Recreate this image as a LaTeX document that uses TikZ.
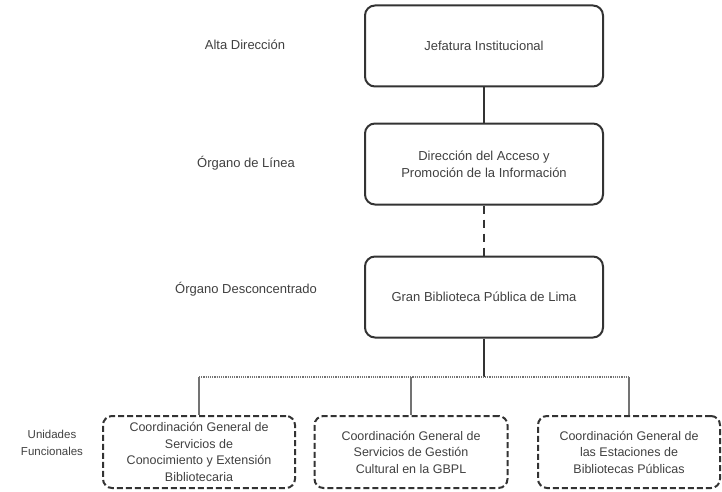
\documentclass[tikz,border=0pt]{standalone}
\usepackage{fontspec}
\setmainfont{Liberation Sans}
\begin{document}
\begin{tikzpicture}[x=1pt,y=1pt,
 caja/.style={draw=black!80,line width=2pt,rounded corners=10pt,
  minimum width=238pt,minimum height=81pt,align=center,text=black!75,
  font=\fontsize{13}{17}\selectfont},
 unidad/.style={draw=black!80,line width=2pt,rounded corners=9pt,
  dash pattern=on 6pt off 3pt,minimum height=72pt,align=center,
  text=black!75,font=\fontsize{12.5}{16.5}\selectfont},
 nivel/.style={text=black!75,align=center,font=\fontsize{13}{17}\selectfont},
 enlace/.style={draw=black!80,line width=1.8pt},
 rama/.style={draw=black!55,line width=1.4pt},
 bus/.style={draw=black!55,line width=1.2pt,densely dotted}]
 \useasboundingbox (0,0) rectangle (722,-492);
 \path
 (484,-46) node[caja] (jefatura) {Jefatura Institucional} % <<< nivel 1
 (245,-45) node[nivel] (altadir) {Alta Dirección}
 (484,-164) node[caja] (direccion) {Dirección del Acceso y\\Promoción de la Información} % <<< nivel 2
 (246,-163) node[nivel] (linea) {Órgano de Línea}
 (484,-297) node[caja] (gbpl) {Gran Biblioteca Pública de Lima} % <<< nivel 3
 (246,-289) node[nivel] (desconc) {Órgano Desconcentrado}
 (52,-443) node[nivel,font=\fontsize{11.5}{17}\selectfont] (funcional) {Unidades\\Funcionales} % <<< nivel 4
 (199,-452) node[unidad,minimum width=192pt] (coordA)
  {Coordinación General de\\Servicios de\\Conocimiento y Extensión\\Bibliotecaria}
 (411,-452) node[unidad,minimum width=193pt] (coordB)
  {Coordinación General de\\Servicios de Gestión\\Cultural en la GBPL}
 (629,-452) node[unidad,minimum width=182pt] (coordC)
  {Coordinación General de\\las Estaciones de\\Bibliotecas Públicas};
 \coordinate (barra) at (0,-377);
 \draw[enlace] (jefatura)--(direccion);
 \draw[enlace,dash pattern=on 8pt off 6pt] (direccion)--(gbpl);
 \draw[enlace] (gbpl.south)--(gbpl.south|-barra);
 \begin{scope}[rama]
 \draw (coordA.north)--(coordA.north|-barra);
 \draw (coordB.north)--(coordB.north|-barra);
 \draw (coordC.north)--(coordC.north|-barra);
 \end{scope}
 \draw[bus] (coordA.north|-barra)--(coordC.north|-barra);
\end{tikzpicture}
\end{document}
